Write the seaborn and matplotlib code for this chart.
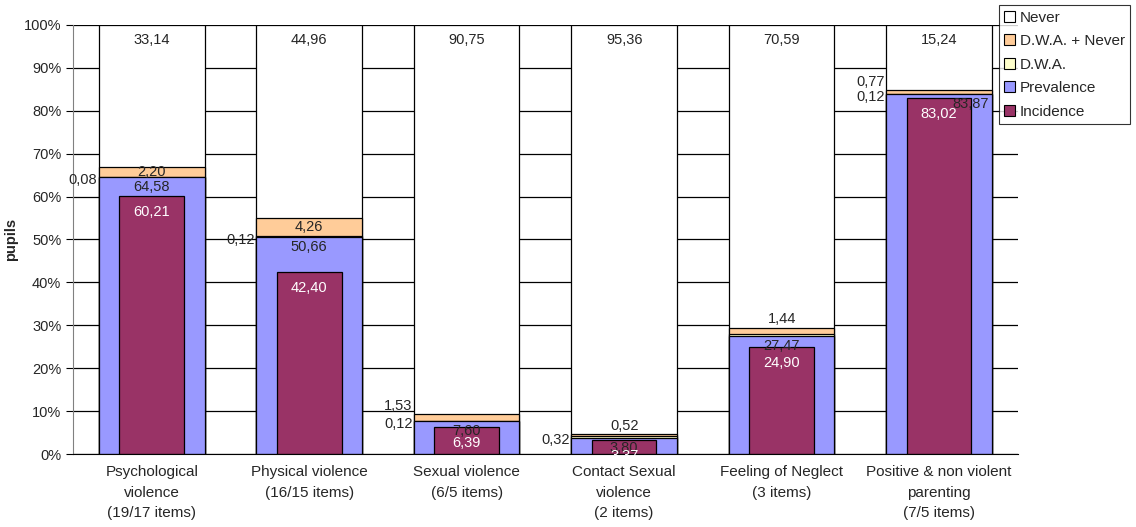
import numpy as np
import pandas as pd
import seaborn as sns
import matplotlib
matplotlib.use('Agg')
import matplotlib.pyplot as plt
from matplotlib.patches import Patch
from matplotlib.ticker import MultipleLocator, FixedLocator, PercentFormatter

sns.set_style('white')
plt.rcParams['font.family'] = ['Liberation Sans', 'DejaVu Sans']

# 数据
categories = ['Psychological\nviolence\n(19/17 items)', 'Physical violence\n(16/15 items)',
              'Sexual violence\n(6/5 items)', 'Contact Sexual\nviolence\n(2 items)',
              'Feeling of Neglect\n(3 items)', 'Positive & non violent\nparenting\n(7/5 items)']
prevalence = [64.58, 50.66, 7.60, 3.80, 27.47, 83.87]
dwa = [0.08, 0.12, 0.12, 0.32, 0.50, 0.12]
dwa_never = [2.20, 4.26, 1.53, 0.52, 1.44, 0.77]
never = [33.14, 44.96, 90.75, 95.36, 70.59, 15.24]
incidence = [60.21, 42.40, 6.39, 3.37, 24.90, 83.02]
dwa_shown = [True, True, True, True, False, True]

c_prev, c_inc, c_dwa, c_dn, c_never = '#9999FF', '#993366', '#FFFFCC', '#FFCC99', '#FFFFFF'

df = pd.DataFrame({'cat': categories, 'prev': prevalence, 'dwa': dwa,
                   'dn': dwa_never, 'never': never, 'inc': incidence})
df['top_prev'] = df['prev']
df['top_dwa'] = df['top_prev'] + df['dwa']
df['top_dn'] = df['top_dwa'] + df['dn']
df['top_never'] = df['top_dn'] + df['never']

fig = plt.figure(figsize=(11.36, 5.27), dpi=100)
ax = fig.add_axes([0.0643, 0.1385, 0.8317, 0.8141])

bw = 0.67
kw = dict(edgecolor='black', linewidth=0.9, ax=ax, width=bw, saturation=1)
# 从上往下叠加画出累计高度
sns.barplot(data=df, x='cat', y='top_never', color=c_never, **kw)
sns.barplot(data=df, x='cat', y='top_dn', color=c_dn, **kw)
sns.barplot(data=df, x='cat', y='top_dwa', color=c_dwa, **kw)
sns.barplot(data=df, x='cat', y='top_prev', color=c_prev, **kw)
sns.barplot(data=df, x='cat', y='inc', color=c_inc, edgecolor='black', linewidth=0.9,
            ax=ax, width=0.41, saturation=1)

fmt = lambda v: f'{v:.2f}'.replace('.', ',')
fs = 10.5
for i, r in df.iterrows():
    # Never
    ax.text(i, 96.5, fmt(r['never']), ha='center', va='center', fontsize=fs)
    # D.W.A. + Never
    if r['dn'] >= 2:
        ax.text(i, (r['top_dwa'] + r['top_dn']) / 2, fmt(r['dn']), ha='center', va='center', fontsize=fs)
    elif i in (2, 5):
        ax.text(i - bw / 2 - 0.01, r['top_dn'] + 2.0, fmt(r['dn']), ha='right', va='center', fontsize=fs)
    else:
        ax.text(i, r['top_dn'] + 2.0, fmt(r['dn']), ha='center', va='center', fontsize=fs)
    # D.W.A.
    if dwa_shown[i]:
        ax.text(i - bw / 2 - 0.01, r['top_dwa'] - 0.8, fmt(r['dwa']), ha='right', va='center', fontsize=fs)
    # Prevalence
    dx = 0.2 if i == 5 else 0
    ax.text(i + dx, r['prev'] - 0.7, fmt(r['prev']), ha='center', va='top', fontsize=fs)
    # Incidence
    ax.text(i, r['inc'] - 2.1, fmt(r['inc']), ha='center', va='top', fontsize=fs, color='white')

ax.set_xlim(-0.5, 5.5)
ax.set_ylim(0, 100)
ax.yaxis.set_major_locator(MultipleLocator(10))
ax.yaxis.set_major_formatter(PercentFormatter(decimals=0))
ax.grid(axis='y', color='black', linewidth=0.9)
ax.set_axisbelow(True)
for gl in ax.get_ygridlines()[-1:]:
    gl.set_color('#dddddd')
ax.xaxis.set_minor_locator(FixedLocator(np.arange(-0.5, 6, 1)))
ax.tick_params(axis='x', which='major', length=0, pad=8, labelsize=11)
ax.tick_params(axis='x', which='minor', length=5, color='black', direction='out')
ax.tick_params(axis='y', length=5, color='black', direction='out', labelsize=10.5, left=True)
for lab in ax.get_xticklabels():
    lab.set_linespacing(1.6)
    lab.set_verticalalignment('top')

for s in ['top', 'right']:
    ax.spines[s].set_visible(False)
ax.spines['left'].set_color('#808080')
ax.spines['bottom'].set_color('black')
ax.set_xlabel('')
ax.set_ylabel('pupils', fontsize=10.5, fontweight='bold', labelpad=4)

handles = [Patch(facecolor=c, edgecolor='black', linewidth=0.8, label=l) for c, l in
           [(c_never, 'Never'), (c_dn, 'D.W.A. + Never'), (c_dwa, 'D.W.A.'),
            (c_prev, 'Prevalence'), (c_inc, 'Incidence')]]
leg = fig.legend(handles=handles, loc='upper left', bbox_to_anchor=(0.879, 0.99),
                 fontsize=11, frameon=True, fancybox=False, handlelength=0.7, handleheight=0.7,
                 handletextpad=0.35, borderpad=0.35, labelspacing=0.62, borderaxespad=0)
leg.get_frame().set_edgecolor('black')
leg.get_frame().set_linewidth(0.8)

plt.savefig('out.png', dpi=100)
